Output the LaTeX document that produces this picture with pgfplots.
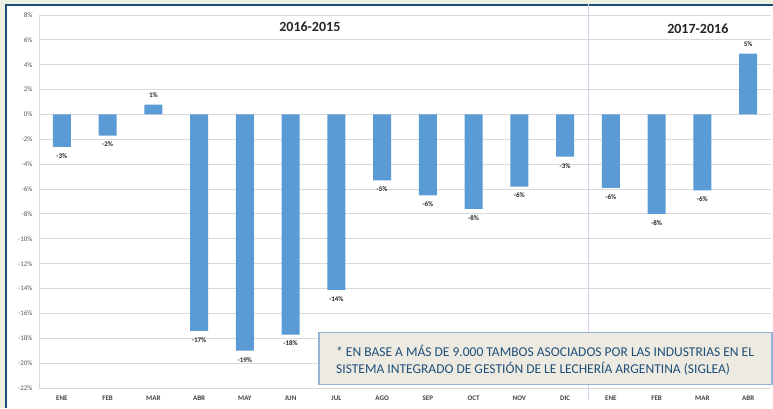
\documentclass[border=0pt]{standalone}
\usepackage{pgfplots}
\pgfplotsset{compat=1.18}
\usepackage{pgfplotstable}
\usepackage{fontspec}
\setmainfont{Carlito}
\definecolor{bg}{HTML}{EEF0E2}
\definecolor{frame}{HTML}{1F4E79}
\definecolor{barblue}{HTML}{5B9BD5}
\definecolor{gridgray}{HTML}{D9D9D9}
\definecolor{ticktext}{HTML}{595959}
\definecolor{sepline}{HTML}{DCCDE8}
\definecolor{boxfill}{HTML}{EDEBE1}
\definecolor{boxdraw}{HTML}{95B3D7}
\definecolor{boxtext}{HTML}{1F4E79}
\pgfplotstableread{
x y lab
0 -2.6 -3
1 -1.7 -2
3 -17.4 -17
4 -19.0 -19
5 -17.7 -18
6 -14.1 -14
7 -5.3 -5
8 -6.5 -6
9 -7.6 -8
10 -5.8 -6
11 -3.4 -3
12 -5.9 -6
13 -8.0 -8
14 -6.1 -6
}\negtable
\pgfplotstableread{
x y lab
2 0.8 1
15 4.9 5
}\postable
\begin{document}
\begin{tikzpicture}[x=1pt,y=1pt]
\fill[bg] (0,0) rectangle (773,408);
\useasboundingbox (0,0) rectangle (773,408);
\fill[white] (6,0) rectangle (773,403);
\draw[frame, line width=2pt] (6,0) -- (6,403) -- (773,403);
\begin{axis}[
  at={(39pt,20pt)}, anchor=south west,
  scale only axis, width=732pt, height=373pt,
  xmin=-0.5, xmax=15.5, ymin=-22, ymax=8,
  ybar, bar width=18pt, bar shift=0pt,
  axis x line*=bottom, axis y line*=left,
  axis line style={gridgray, line width=1pt},
  ymajorgrids, grid style={gridgray, line width=1pt},
  ytick={-22,-20,...,8},
  yticklabel={\pgfmathprintnumber{\tick}\%},
  xtick={0,...,15},
  xticklabels={ENE,FEB,MAR,ABR,MAY,JUN,JUL,AGO,SEP,OCT,NOV,DIC,ENE,FEB,MAR,ABR},
  major tick length=0pt,
  /pgf/number format/assume math mode=true,
  yticklabel style={font=\fontsize{7}{8}\selectfont, text=ticktext, xshift=-3pt},
  xticklabel style={font=\bfseries\fontsize{7}{8}\selectfont, text=black!75, yshift=-4pt},
  nodes near coords={\pgfplotspointmeta\%},
  point meta=explicit symbolic,
  every node near coord/.append style={font=\bfseries\fontsize{7}{8}\selectfont, text=black!85},
  clip=false,
]
\draw[sepline, line width=1pt] (axis cs:11.5,8.9) -- (axis cs:11.5,-23);
\addplot[fill=barblue, draw=none, every node near coord/.append style={anchor=north, yshift=-3pt}] table[x=x, y=y, meta=lab] {\negtable};
\addplot[fill=barblue, draw=none, every node near coord/.append style={anchor=south, yshift=3pt}] table[x=x, y=y, meta=lab] {\postable};
\node[font=\bfseries\fontsize{14}{16}\selectfont, text=black!85] at (axis cs:5.42,7.04) {2016-2015};
\node[font=\bfseries\fontsize{14}{16}\selectfont, text=black!85] at (axis cs:13.9,6.9) {2017-2016};
\end{axis}
\node[draw=boxdraw, line width=1.5pt, fill=boxfill, minimum width=453pt, minimum height=52pt, anchor=south west, inner sep=0pt] at (318pt,23pt) {};
\node[anchor=west, align=left, text=boxtext, font=\fontsize{13.5}{17}\selectfont, inner sep=0pt] at (336pt,48pt) {* EN BASE A MÁS DE 9.000 TAMBOS ASOCIADOS POR LAS INDUSTRIAS EN EL\\SISTEMA INTEGRADO DE GESTIÓN DE LE LECHERÍA ARGENTINA (SIGLEA)};
\end{tikzpicture}
\end{document}
